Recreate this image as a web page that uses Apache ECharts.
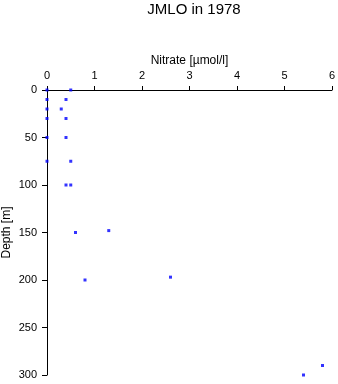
<!DOCTYPE html>
<html>
<head>
<meta charset="utf-8">
<script src="https://cdn.jsdelivr.net/npm/echarts@6/dist/echarts.min.js"></script>
<style>
  html, body { margin: 0; padding: 0; background: #fff; }
  #chart { width: 338px; height: 384px; }
</style>
</head>
<body>
<div id="chart"></div>
<script>
// nitrate (µmol/l) vs depth (m), JMLO 1978
const nitrate = [0, 0.5, 0, 0.4, 0, 0.3, 0, 0.4, 0, 0.4, 0, 0.5, 0.4, 0.5, 0.6, 1.3, 0.8, 2.6, 5.8, 5.4];
const depth   = [0, 0, 10, 10, 20, 20, 30, 30, 50, 50, 75, 75, 100, 100, 150, 148, 200, 197, 290, 300];
const xTicks = [0, 6, 1];   // min, max, step
const yTicks = [0, 300, 50];

const points = nitrate.map((v, i) => [v, depth[i]]);

const font = 'Liberation Sans, Arial, sans-serif';
const myChart = echarts.init(document.getElementById('chart'));
myChart.setOption({
  animation: false,
  backgroundColor: '#fff',
  title: {
    text: 'JMLO in 1978',
    left: 189, top: -3,
    textAlign: 'center',
    textStyle: { fontFamily: font, fontSize: 15, fontWeight: 'normal', color: '#000' }
  },
  grid: { left: 47, right: 6, top: 90, bottom: 9, outerBoundsMode: 'none', containLabel: false },
  xAxis: {
    type: 'value', position: 'top',
    min: xTicks[0], max: xTicks[1], interval: xTicks[2],
    name: 'Nitrate [µmol/l]', nameLocation: 'middle', nameGap: 23, nameMoveOverlap: false,
    nameTextStyle: { fontFamily: font, fontSize: 12, color: '#000' },
    axisLine: { show: true, lineStyle: { color: '#000', width: 1 } },
    axisTick: { show: true, length: 4, lineStyle: { color: '#000' } },
    axisLabel: { fontFamily: font, fontSize: 11, color: '#000', margin: 9 },
    splitLine: { show: false }
  },
  yAxis: {
    type: 'value', inverse: true,
    min: yTicks[0], max: yTicks[1], interval: yTicks[2],
    name: 'Depth [m]', nameLocation: 'middle', nameGap: 34, nameMoveOverlap: false,
    nameTextStyle: { fontFamily: font, fontSize: 12, color: '#000' },
    axisLine: { show: true, lineStyle: { color: '#000', width: 1 } },
    axisTick: { show: true, length: 5, lineStyle: { color: '#000' } },
    axisLabel: { fontFamily: font, fontSize: 11, color: '#000', margin: 10 },
    splitLine: { show: false }
  },
  series: [{
    type: 'scatter',
    data: points,
    symbol: 'rect',
    symbolSize: 3,
    itemStyle: { color: '#0000ff' },
    clip: false
  }]
});
</script>
</body>
</html>
